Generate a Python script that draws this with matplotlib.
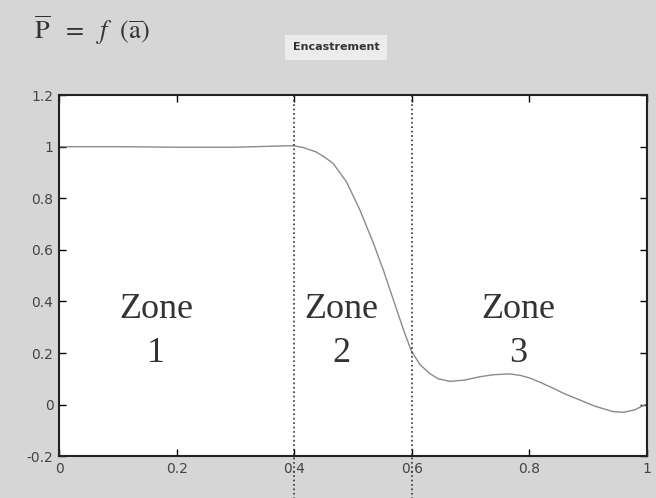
import matplotlib.pyplot as plt

# curve P = f(a)
a_vals = [0.0, 0.1, 0.2, 0.3, 0.38, 0.398, 0.415, 0.437, 0.45, 0.466, 0.489, 0.512,
          0.535, 0.552, 0.569, 0.586, 0.599, 0.614, 0.631, 0.645, 0.665, 0.69, 0.716,
          0.74, 0.767, 0.785, 0.801, 0.82, 0.84, 0.86, 0.886, 0.91, 0.942, 0.96,
          0.98, 0.993, 1.0]
p_vals = [1.0, 1.0, 0.998, 0.998, 1.003, 1.004, 0.997, 0.98, 0.962, 0.936, 0.864, 0.754,
          0.625, 0.52, 0.405, 0.29, 0.21, 0.155, 0.12, 0.1, 0.09, 0.095, 0.108,
          0.116, 0.119, 0.113, 0.103, 0.085, 0.064, 0.042, 0.018, -0.005, -0.027, -0.03,
          -0.02, -0.005, 0.002]

zone_bounds = [0.4, 0.6]
zone_words = ['Zone', 'Zone', 'Zone']
zone_nums = ['1', '2', '3']
zone_x = [0.165, 0.48, 0.782]
xticks = [0, 0.2, 0.4, 0.6, 0.8, 1]
yticks = [-0.2, 0, 0.2, 0.4, 0.6, 0.8, 1, 1.2]

plt.rcParams['mathtext.fontset'] = 'stix'

fig = plt.figure(figsize=(6.56, 4.98), dpi=100, facecolor='#d6d6d6')
ax = fig.add_axes([0.090, 0.084, 0.896, 0.725])
ax.set_facecolor('white')

ax.plot(a_vals, p_vals, color='#8a8a8a', linewidth=1.0)

for b in zone_bounds:
    ax.axvline(b, ymin=-0.12, ymax=1, color='#333333', linestyle=':', linewidth=1.2,
               clip_on=False)

for x, w, n in zip(zone_x, zone_words, zone_nums):
    ax.text(x, 0.336, w, ha='center', va='baseline', fontsize=26,
            family='Liberation Serif', color='#333333')
    ax.text(x, 0.165, n, ha='center', va='baseline', fontsize=26,
            family='Liberation Serif', color='#333333')

ax.set_xlim(0, 1)
ax.set_ylim(-0.2, 1.2)
ax.set_xticks(xticks)
ax.set_xticklabels(['0', '0.2', '0.4', '0.6', '0.8', '1'])
ax.set_yticks(yticks)
ax.set_yticklabels(['-0.2', '0', '0.2', '0.4', '0.6', '0.8', '1', '1.2'])
ax.tick_params(direction='in', top=True, right=True, length=5, width=1,
               labelsize=10, labelcolor='#444444', pad=4)
for s in ax.spines.values():
    s.set_linewidth(1.5)
    s.set_color('#222222')

fig.text(0.052, 0.94,
         r'$\overline{\mathrm{P}}\ \ =\ \ f\ \ \left(\overline{\mathrm{a}}\right)$',
         fontsize=19, color='#333333', ha='left', va='center')
fig.text(0.512, 0.905, 'Encastrement', fontsize=8, fontweight='bold', color='#333333',
         ha='center', va='center',
         bbox=dict(boxstyle='square,pad=0.7', facecolor='#ececec', edgecolor='none'))

fig.savefig('out.png', dpi=100, facecolor=fig.get_facecolor())
